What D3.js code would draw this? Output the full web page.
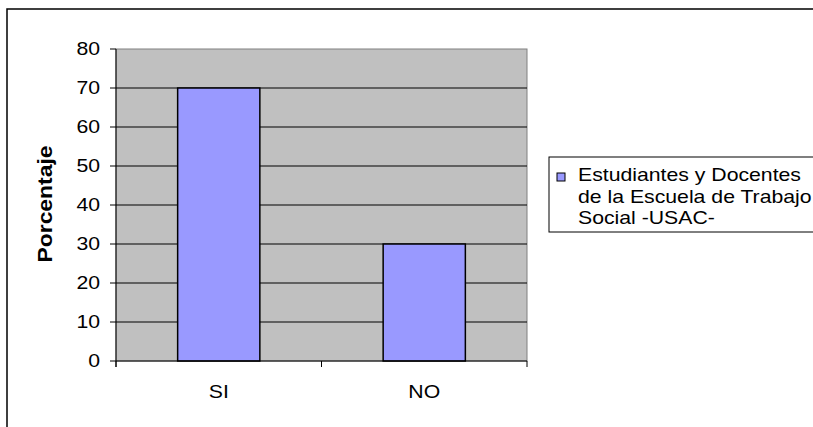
<!DOCTYPE html>
<html>
<head>
<meta charset="utf-8">
<script src="https://cdn.jsdelivr.net/npm/d3@7"></script>
<style>
  body { margin: 0; background: #fff; }
  svg { display: block; }
  text { font-family: "Liberation Sans", Arial, sans-serif; fill: #000; }
</style>
</head>
<body>
<svg id="chart" width="813" height="427"></svg>
<script>
// chart data
const categories = ["SI", "NO"];
const values = [70, 30];
const yTicks = [0, 10, 20, 30, 40, 50, 60, 70, 80];
const seriesName = ["Estudiantes y Docentes", "de la Escuela de Trabajo", "Social -USAC-"];
const yTitle = "Porcentaje";

const svg = d3.select("#chart");
const stretch = 1.18; // text looks widened horizontally in the original
const fontSize = "18px";

// outer frame (only top and left edges are visible)
svg.append("path")
    .attr("d", "M7,427 L7,9 L813,9")
    .attr("fill", "none")
    .attr("stroke", "#000")
    .attr("stroke-width", 1.5);

const plot = {left: 116, right: 527, top: 49, bottom: 361};

const x = d3.scaleBand()
    .domain(categories)
    .range([plot.left, plot.right])
    .paddingInner(0.6)
    .paddingOuter(0.3);

const y = d3.scaleLinear()
    .domain([0, 80])
    .range([plot.bottom, plot.top]);

// gray plot background
svg.append("rect")
    .attr("x", plot.left)
    .attr("y", plot.top)
    .attr("width", plot.right - plot.left)
    .attr("height", plot.bottom - plot.top)
    .attr("fill", "#c0c0c0")
    .attr("stroke", "#808080")
    .attr("stroke-width", 1);

// gridlines
svg.selectAll(".grid")
    .data(yTicks.filter(d => d > 0 && d < 80))
    .enter().append("line")
    .attr("class", "grid")
    .attr("x1", plot.left)
    .attr("x2", plot.right)
    .attr("y1", d => y(d))
    .attr("y2", d => y(d))
    .attr("stroke", "#000")
    .attr("stroke-width", 1);

// bars
svg.selectAll(".bar")
    .data(values)
    .enter().append("rect")
    .attr("class", "bar")
    .attr("x", (d, i) => x(categories[i]))
    .attr("y", d => y(d))
    .attr("width", x.bandwidth())
    .attr("height", d => y(0) - y(d))
    .attr("fill", "#9999ff")
    .attr("stroke", "#000")
    .attr("stroke-width", 1.5);

// y axis
svg.append("line")
    .attr("x1", plot.left).attr("x2", plot.left)
    .attr("y1", plot.top).attr("y2", plot.bottom + 6)
    .attr("stroke", "#000");

svg.selectAll(".ytick")
    .data(yTicks)
    .enter().append("line")
    .attr("class", "ytick")
    .attr("x1", plot.left - 6)
    .attr("x2", plot.left)
    .attr("y1", d => y(d))
    .attr("y2", d => y(d))
    .attr("stroke", "#000");

svg.selectAll(".ylabel")
    .data(yTicks)
    .enter().append("text")
    .attr("class", "ylabel")
    .attr("transform", d => "translate(100," + y(d) + ") scale(" + stretch + ",1)")
    .attr("dy", "0.35em")
    .attr("text-anchor", "end")
    .style("font-size", fontSize)
    .text(d => d);

// x axis
svg.append("line")
    .attr("x1", plot.left).attr("x2", plot.right)
    .attr("y1", plot.bottom).attr("y2", plot.bottom)
    .attr("stroke", "#000");

// category boundaries for the tick marks
const xEdges = categories.map(c => x(c) - (x.step() - x.bandwidth()) / 2);
xEdges.push(plot.right);
svg.selectAll(".xtick")
    .data(xEdges)
    .enter().append("line")
    .attr("class", "xtick")
    .attr("x1", d => d).attr("x2", d => d)
    .attr("y1", plot.bottom).attr("y2", plot.bottom + 6)
    .attr("stroke", "#000");

svg.selectAll(".xlabel")
    .data(categories)
    .enter().append("text")
    .attr("class", "xlabel")
    .attr("transform", d => "translate(" + (x(d) + x.bandwidth() / 2) + ",398) scale(" + stretch + ",1)")
    .attr("text-anchor", "middle")
    .style("font-size", fontSize)
    .text(d => d);

// y title
svg.append("text")
    .attr("transform", "translate(52,204) rotate(-90)")
    .attr("text-anchor", "middle")
    .attr("textLength", 117)
    .attr("lengthAdjust", "spacingAndGlyphs")
    .style("font-size", "20px")
    .style("font-weight", "bold")
    .text(yTitle);

// legend
const legend = svg.append("g");
legend.append("rect")
    .attr("x", 549)
    .attr("y", 157)
    .attr("width", 300)
    .attr("height", 75)
    .attr("fill", "#fff")
    .attr("stroke", "#000")
    .attr("stroke-width", 1);

legend.append("rect")
    .attr("x", 557)
    .attr("y", 173)
    .attr("width", 8)
    .attr("height", 8)
    .attr("fill", "#9999ff")
    .attr("stroke", "#000")
    .attr("stroke-width", 1);

legend.selectAll(".legtext")
    .data(seriesName)
    .enter().append("text")
    .attr("class", "legtext")
    .attr("transform", (d, i) => "translate(578," + (181 + i * 21.5) + ") scale(" + stretch + ",1)")
    .style("font-size", fontSize)
    .text(d => d);
</script>
</body>
</html>
